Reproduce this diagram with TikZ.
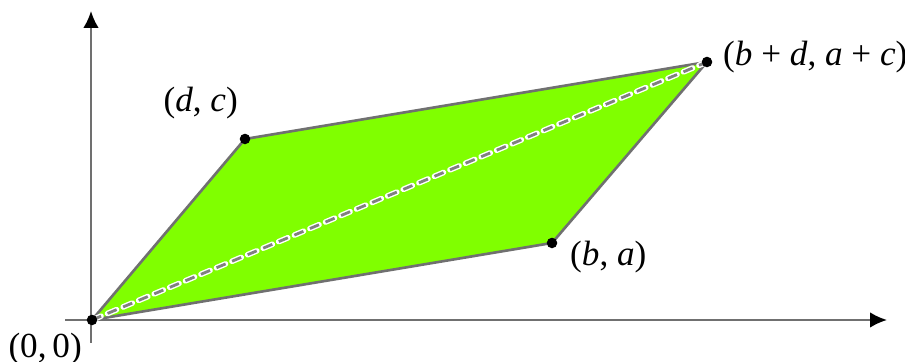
\documentclass[tikz,border=0pt]{standalone}
\usepackage{fontspec}
\setmainfont{Liberation Serif}
\usetikzlibrary{arrows.meta, positioning}
\definecolor{parafill}{HTML}{80FF00}
\definecolor{edgegray}{HTML}{707070}
\tikzset{
  axis/.style={line width=0.6pt,edgegray,-{Latex[length=4.8pt,width=4.4pt,black]}},
  edge/.style={line width=0.75pt,edgegray},
  vertex/.style={circle,fill=black,inner sep=0pt,minimum size=3pt},
}

\begin{document}
\begin{tikzpicture}[x=0.01cm,y=-0.01cm,font=\normalsize]
    \useasboundingbox (0,0) rectangle (905,362);
    % corners of the parallelogram
    \coordinate (O) at (92,320);
    \coordinate (D) at (245,139);
    \coordinate (B) at (552,243);
    \coordinate (S) at (707,62);
    \fill[parafill] (O) -- (B) -- (S) -- (D) -- cycle;
    % axes
    \coordinate (xstart) at (65,320);
    \coordinate (xend) at (887,320);
    \coordinate (ystart) at (91,343);
    \coordinate (yend) at (91,11);
    \draw[axis] (xstart) -- (xend);
    \draw[axis] (ystart) -- (yend);
    \draw[edge] (O) -- (B) -- (S) -- (D) -- cycle;
    % diagonal
    \draw[white,line width=1.6pt,line cap=round,dash pattern=on 2.8pt off 2pt] (O) -- (S);
    \draw[gray,line width=0.8pt,dash pattern=on 2.8pt off 2pt] (O) -- (S);
    \node[vertex] (o) at (O) {};
    \node[vertex] (d) at (D) {};
    \node[vertex] (b) at (B) {};
    \node[vertex] (s) at (S) {};
    \node[anchor=north east,inner sep=1pt] (olab) at (86,329) {(0,\,0)};
    \node[anchor=south east,inner sep=1pt] (dlab) at (242,123) {(\textit{d}, \textit{c})};
    \node[anchor=west,inner sep=1pt] (blab) at (566,257) {(\textit{b}, \textit{a})};
    \node[anchor=west,inner sep=1pt] (slab) at (719,57) {(\textit{b} + \textit{d}, \textit{a} + \textit{c})};
\end{tikzpicture}
\end{document}
